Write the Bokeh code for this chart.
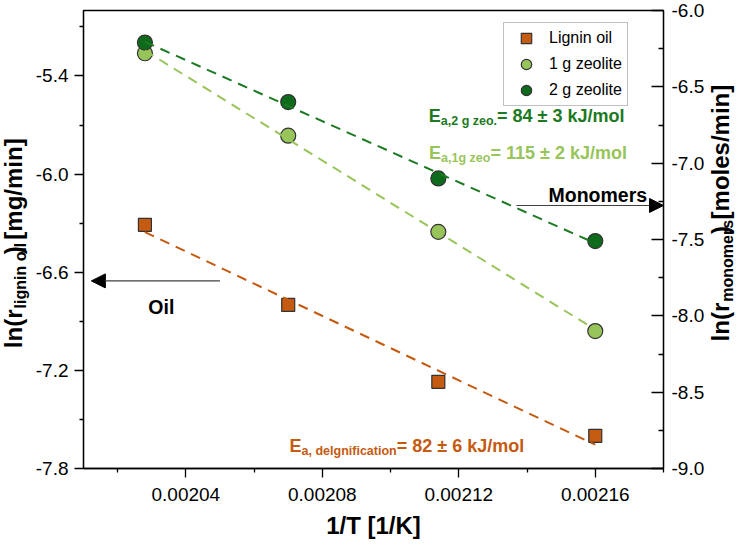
import numpy as np
from bokeh.plotting import figure
from bokeh.layouts import row
from bokeh.models import (Range1d, LinearAxis, FixedTicker, NumeralTickFormatter,
                          Label, Arrow, NormalHead)
from bokeh.embed import file_html
from bokeh.resources import INLINE

# ---------------- data ----------------
inv_T = [0.002028, 0.002070, 0.002114, 0.002160]          # 1/T [1/K]
lignin_oil = [-6.31, -6.80, -7.27, -7.60]                  # left axis
zeolite_1g = [-6.28, -6.82, -7.45, -8.10]                  # right axis
zeolite_2g = [-6.21, -6.60, -7.10, -7.51]                  # right axis
series_names = ["Lignin oil", "1 g zeolite", "2 g zeolite"]

x_ticks = [0.00204, 0.00208, 0.00212, 0.00216]
x_minor = [0.00202, 0.00206, 0.00210, 0.00214, 0.00218]
left_ticks = [-7.8, -7.2, -6.6, -6.0, -5.4]
left_minor = [-7.5, -6.9, -6.3, -5.7, -5.1]
right_ticks = [-9.0, -8.5, -8.0, -7.5, -7.0, -6.5, -6.0]
right_minor = [-8.75, -8.25, -7.75, -7.25, -6.75, -6.25]

x_lim = (0.00201, 0.00218)
left_lim = (-7.8, -5.0)
right_lim = (-9.0, -6.0)

ORANGE = "#C55A11"
LIGHT = "#98C55A"
DARK = "#0E6B1C"
DARK_TXT = "#1C7A22"
EDGE = "#333333"
FONT = "Liberation Sans"

# ---------------- layout sizes ----------------
H = 544
W_LEFT_TITLE = 32
W_RIGHT_TITLE = 33
W_MAIN = 740 - W_LEFT_TITLE - W_RIGHT_TITLE
B_LEFT, B_RIGHT, B_TOP, B_BOTTOM = 48, 41, 10, 76
FRAME_H = H - B_TOP - B_BOTTOM

# ---------------- main figure ----------------
p = figure(width=W_MAIN, height=H, x_range=Range1d(*x_lim), y_range=Range1d(*left_lim),
           output_backend="svg", toolbar_location=None,
           min_border_left=B_LEFT, min_border_right=B_RIGHT,
           min_border_top=B_TOP, min_border_bottom=B_BOTTOM)
p.extra_y_ranges = {"right": Range1d(*right_lim)}
p.xgrid.visible = False
p.ygrid.visible = False
p.outline_line_color = "black"
p.outline_line_width = 1.3
p.outline_line_alpha = 1.0
p.background_fill_color = "white"
p.border_fill_color = "white"

def style_axis(ax, size="19px"):
    ax.axis_line_color = "black"
    ax.axis_line_width = 1.3
    ax.major_tick_line_color = "black"
    ax.minor_tick_line_color = "black"
    ax.major_tick_line_width = 1.3
    ax.minor_tick_line_width = 1.3
    ax.major_label_text_font = FONT
    ax.major_label_text_font_size = size
    ax.major_label_text_color = "black"

xa = p.xaxis[0]
style_axis(xa)
xa.ticker = FixedTicker(ticks=x_ticks, minor_ticks=x_minor)
xa.formatter = NumeralTickFormatter(format="0.00000")
xa.major_tick_out = 9
xa.major_tick_in = 0
xa.minor_tick_out = 4
xa.minor_tick_in = 0
xa.major_label_standoff = 10
xa.axis_label = "1/T [1/K]"
xa.axis_label_text_font = FONT
xa.axis_label_text_font_style = "bold"
xa.axis_label_text_font_size = "24px"
xa.axis_label_text_color = "black"
xa.axis_label_standoff = 8

ya = p.yaxis[0]
style_axis(ya)
ya.ticker = FixedTicker(ticks=left_ticks, minor_ticks=left_minor)
ya.formatter = NumeralTickFormatter(format="0.0")
ya.major_tick_out = 9
ya.major_tick_in = 0
ya.minor_tick_out = 4
ya.minor_tick_in = 0
ya.major_label_standoff = 6

ra = LinearAxis(y_range_name="right")
style_axis(ra)
ra.ticker = FixedTicker(ticks=right_ticks, minor_ticks=right_minor)
ra.formatter = NumeralTickFormatter(format="0.0")
ra.major_tick_out = 0
ra.major_tick_in = 12
ra.minor_tick_out = 0
ra.minor_tick_in = 5
ra.major_label_standoff = 8
p.add_layout(ra, "right")

# ---------------- markers ----------------
p.scatter(inv_T, lignin_oil, marker="square", size=13, fill_color=ORANGE,
          line_color=EDGE, line_width=1.2, legend_label=series_names[0])
p.scatter(inv_T, zeolite_1g, marker="circle", size=15, fill_color=LIGHT,
          line_color=EDGE, line_width=1.2, y_range_name="right", legend_label=series_names[1])
p.scatter(inv_T, zeolite_2g, marker="circle", size=15, fill_color=DARK,
          line_color=EDGE, line_width=1.2, y_range_name="right", legend_label=series_names[2])

# ---------------- regression lines (fitted from the data) ----------------
xs_fit = [inv_T[0], inv_T[-1]]
for ys, color, rng in [(lignin_oil, ORANGE, "default"),
                       (zeolite_1g, LIGHT, "right"),
                       (zeolite_2g, DARK_TXT, "right")]:
    coef = np.polyfit(inv_T, ys, 1)
    p.line(xs_fit, list(np.polyval(coef, xs_fit)), line_color=color, line_width=2,
           line_dash="10 7", y_range_name=rng)

# ---------------- legend ----------------
lg = p.legend[0]
lg.location = (420, 362)
lg.label_text_font = FONT
lg.label_text_font_size = "16px"
lg.label_text_color = "black"
lg.glyph_height = 26
lg.glyph_width = 40
lg.label_height = 20
lg.label_width = 76
lg.spacing = 0
lg.padding = 2
lg.margin = 0
lg.label_standoff = 3
lg.border_line_color = "#808080"
lg.border_line_width = 1.5
lg.background_fill_color = "white"
lg.background_fill_alpha = 1.0

# ---------------- rich text helpers ----------------
W_BOLD = {' ': 278, 'E': 667, 'a': 556, ',': 278, '2': 556, 'g': 611, 'z': 500,
          'e': 556, 'o': 611, '.': 278, '=': 584, '8': 556, '4': 556, '±': 584,
          '3': 556, 'k': 556, 'J': 556, '/': 278, 'm': 889, 'l': 278, '1': 556,
          '5': 556, 'd': 611, 'n': 611, 'i': 278, 'f': 333, 'c': 556, 't': 333,
          '6': 556, '(': 333, ')': 333, '[': 333, ']': 333, 'r': 389, 's': 556,
          'M': 833, 'O': 778, 'T': 611, 'K': 722}

def tw(s, size):
    return sum(W_BOLD.get(c, 556) for c in s) * size / 1000.0

def add_label(fig, **kw):
    base = dict(text_font=FONT, text_font_style="bold", text_align="left",
                text_baseline="alphabetic")
    base.update(kw)
    fig.add_layout(Label(**base))

def rich(x, y, parts, color):
    """horizontal text with subscripts, anchored (data units) at the left baseline"""
    cum = 0.0
    for t, s, d in parts:
        add_label(p, x=x, y=y, text=t, x_offset=cum, y_offset=-d,
                  text_font_size=f"{s}px", text_color=color)
        cum += tw(t, s)

# empirical placement corrections of rotated labels (pixels), by font size
ROT_SHIFT = {24: (-7.0, -50.0), 16: (-5.0, -41.5)}
SUB_GAP = 7.0

def title_fig(width, baseline_x, center_y, parts):
    """narrow figure holding a vertical (bottom-to-top) title with a subscript"""
    f = figure(width=width, height=H, x_range=Range1d(0, width), y_range=Range1d(0, H),
               output_backend="svg", toolbar_location=None,
               x_axis_location=None, y_axis_location=None,
               min_border_left=0, min_border_right=0, min_border_top=0, min_border_bottom=0)
    f.xgrid.visible = False
    f.ygrid.visible = False
    f.outline_line_color = None
    f.background_fill_color = "white"
    f.border_fill_color = "white"
    total = sum(tw(t, s) for t, s, d in parts) + SUB_GAP
    cum = center_y - total / 2.0
    for t, s, d in parts:
        dx, dy = ROT_SHIFT[s]
        add_label(f, x=baseline_x + d + dx, y=cum + dy, angle=np.pi / 2,
                  text=t, text_font_size=f"{s}px", text_color="black")
        cum += tw(t, s) + (SUB_GAP if d else 0.0)
    return f

def frame_y(v, lim):
    return B_BOTTOM + (v - lim[0]) / (lim[1] - lim[0]) * FRAME_H

left_title = title_fig(W_LEFT_TITLE, 20, frame_y(-6.39, left_lim),
                       [("ln(r", 24, 0), ("lignin oil", 16, 5), (") [mg/min]", 24, 0)])
right_title = title_fig(W_RIGHT_TITLE, 20, frame_y(-6.19, left_lim),
                        [("ln(r", 24, 0), ("monomers", 16, 5), (") [moles/min]", 24, 0)])

# activation energies
rich(0.0021112, -5.646, [("E", 18, 0), ("a,2 g zeo.", 12.5, 5), (" = 84 ± 3 kJ/mol", 18, 0)], DARK_TXT)
rich(0.0021113, -5.872, [("E", 18, 0), ("a,1g zeo", 12.5, 5), (" = 115 ± 2 kJ/mol", 18, 0)], LIGHT)
rich(0.0020704, -7.661, [("E", 18, 0), ("a, delgnification", 12.5, 5), (" = 82 ± 6 kJ/mol", 18, 0)], ORANGE)

# arrows and their labels
rich(0.0021463, -6.131, [("Monomers", 19.5, 0)], "black")
rich(0.0020290, -6.815, [("Oil", 19.5, 0)], "black")
p.add_layout(Arrow(end=NormalHead(size=14, fill_color="black", line_color="black"),
                   x_start=0.0021369, y_start=-6.192, x_end=x_lim[1], y_end=-6.192,
                   line_color="#404040", line_width=1.2))
p.add_layout(Arrow(end=NormalHead(size=14, fill_color="black", line_color="black"),
                   x_start=0.00205, y_start=-6.653, x_end=0.0020123, y_end=-6.653,
                   line_color="#404040", line_width=1.2))

layout = row(left_title, p, right_title, spacing=0)
open("out.html", "w").write(file_html(layout, INLINE))
